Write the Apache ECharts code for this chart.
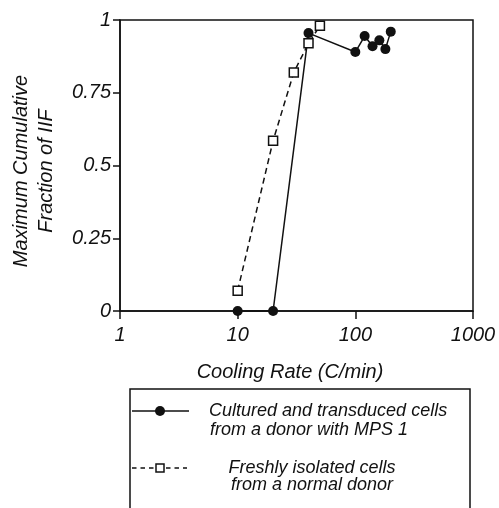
<!DOCTYPE html>
<html>
<head>
<meta charset="utf-8">
<script src="https://cdn.jsdelivr.net/npm/echarts@6/dist/echarts.min.js"></script>
<style>
  html, body { margin: 0; padding: 0; background: #fff; }
  #chart { width: 499px; height: 508px; }
</style>
</head>
<body>
<div id="chart"></div>
<script>
// cultured / transduced cells (MPS 1 donor)
const mpsRate = [10, 20, 40, 100, 120, 140, 160, 180, 200];
const mpsIIF = [0, 0, 0.955, 0.89, 0.945, 0.91, 0.93, 0.9, 0.96];
// freshly isolated cells (normal donor)
const normalRate = [10, 20, 30, 40, 50];
const normalIIF = [0.07, 0.585, 0.82, 0.92, 0.98];

const yTicks = [0, 0.25, 0.5, 0.75, 1];
const xTicks = [1, 10, 100, 1000];

const ink = '#111';
const font = 'Liberation Sans, Arial, sans-serif';

const chart = echarts.init(document.getElementById('chart'));

const pair = (xs, ys) => xs.map((x, i) => [x, ys[i]]);

chart.setOption({
  animation: false,
  backgroundColor: '#fff',
  grid: {
    left: 120, right: 26, top: 20, bottom: 197,
    containLabel: false,
    outerBoundsMode: 'none',
    show: true,
    borderColor: ink,
    borderWidth: 1.5
  },
  xAxis: {
    type: 'log',
    logBase: 10,
    min: xTicks[0],
    max: xTicks[xTicks.length - 1],
    axisLine: { lineStyle: { color: ink, width: 1.5 } },
    axisTick: { show: true, length: 8, lineStyle: { color: ink, width: 1.5 } },
    minorTick: { show: false },
    splitLine: { show: false },
    axisLabel: {
      margin: 14,
      color: ink,
      fontSize: 20,
      fontStyle: 'italic',
      fontFamily: font,
      formatter: v => String(Math.round(v))
    }
  },
  yAxis: {
    type: 'value',
    min: yTicks[0],
    max: yTicks[yTicks.length - 1],
    interval: yTicks[1] - yTicks[0],
    axisLine: { show: true, lineStyle: { color: ink, width: 1.5 } },
    axisTick: { show: true, length: 7, lineStyle: { color: ink, width: 1.5 } },
    splitLine: { show: false },
    axisLabel: {
      margin: 9,
      color: ink,
      fontSize: 20,
      fontStyle: 'italic',
      fontFamily: font
    }
  },
  series: [
    {
      name: 'Cultured and transduced cells',
      type: 'line',
      data: pair(mpsRate, mpsIIF),
      clip: false,
      symbol: 'circle',
      symbolSize: 10,
      itemStyle: { color: ink },
      lineStyle: { color: ink, width: 1.5 },
      z: 2
    },
    {
      name: 'Freshly isolated cells',
      type: 'line',
      data: pair(normalRate, normalIIF),
      clip: false,
      symbol: 'rect',
      symbolSize: 9,
      itemStyle: { color: '#fff', borderColor: ink, borderWidth: 1.5 },
      lineStyle: { color: ink, width: 1.5, type: [6, 4] },
      z: 3
    }
  ],
  graphic: [
    {
      type: 'text',
      x: 34, y: 171,
      rotation: Math.PI / 2,
      style: {
        text: 'Maximum Cumulative\nFraction of IIF',
        fill: ink,
        font: 'italic 20px ' + font,
        lineHeight: 25,
        align: 'center',
        verticalAlign: 'middle'
      }
    },
    {
      type: 'text',
      x: 290, y: 372,
      style: {
        text: 'Cooling Rate (C/min)',
        fill: ink,
        font: 'italic 20px ' + font,
        align: 'center',
        verticalAlign: 'middle'
      }
    },
    // legend box
    {
      type: 'rect',
      shape: { x: 130, y: 389, width: 340, height: 140 },
      style: { fill: 'none', stroke: ink, lineWidth: 1.5 }
    },
    {
      type: 'line',
      shape: { x1: 132, y1: 411, x2: 189, y2: 411 },
      style: { stroke: ink, lineWidth: 1.5 }
    },
    {
      type: 'circle',
      shape: { cx: 160, cy: 411, r: 5 },
      style: { fill: ink }
    },
    {
      type: 'text',
      x: 209, y: 411,
      style: {
        text: 'Cultured and transduced cells',
        fill: ink, font: 'italic 18px ' + font,
        align: 'left', verticalAlign: 'middle'
      }
    },
    {
      type: 'text',
      x: 210, y: 430,
      style: {
        text: 'from a donor with MPS 1',
        fill: ink, font: 'italic 18px ' + font,
        align: 'left', verticalAlign: 'middle'
      }
    },
    {
      type: 'line',
      shape: { x1: 132, y1: 468, x2: 187, y2: 468 },
      style: { stroke: ink, lineWidth: 1.5, lineDash: [4.5, 4] }
    },
    {
      type: 'rect',
      shape: { x: 156, y: 464, width: 8, height: 8 },
      style: { fill: '#fff', stroke: ink, lineWidth: 1.5 }
    },
    {
      type: 'text',
      x: 312, y: 468,
      style: {
        text: 'Freshly isolated cells',
        fill: ink, font: 'italic 18px ' + font,
        align: 'center', verticalAlign: 'middle'
      }
    },
    {
      type: 'text',
      x: 312, y: 485,
      style: {
        text: 'from a normal donor',
        fill: ink, font: 'italic 18px ' + font,
        align: 'center', verticalAlign: 'middle'
      }
    }
  ]
});
</script>
</body>
</html>
